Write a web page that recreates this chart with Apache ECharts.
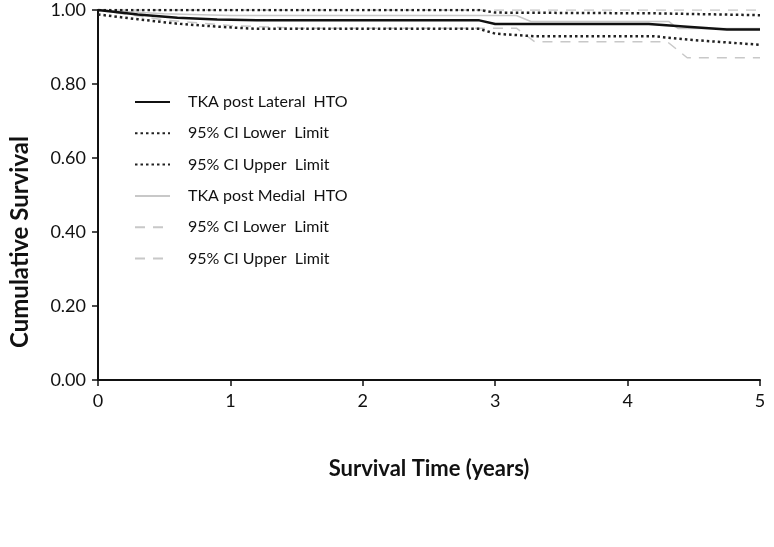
<!DOCTYPE html>
<html>
<head>
<meta charset="utf-8">
<script src="https://cdn.jsdelivr.net/npm/echarts@6/dist/echarts.min.js"></script>
<style>html,body{margin:0;padding:0;background:#fff;}#c{width:774px;height:547px;}</style>
</head>
<body>
<div id="c"></div>
<script>
// Survival time (years) and cumulative survival values
const latX     = [0, 0.3, 0.6, 0.9, 1.2, 2.88, 3.0, 4.16, 4.45, 4.75, 5];
const latY     = [1.0, 0.988, 0.979, 0.974, 0.972, 0.972, 0.962, 0.962, 0.955, 0.947, 0.947];
const latLoX   = [0, 0.3, 0.6, 0.9, 1.2, 2.88, 3.0, 3.3, 4.2, 4.45, 5];
const latLoY   = [0.988, 0.975, 0.963, 0.955, 0.949, 0.949, 0.936, 0.929, 0.929, 0.92, 0.906];
const latHiX   = [0, 2.88, 3.0, 4.2, 5];
const latHiY   = [1.0, 1.0, 0.993, 0.991, 0.986];
const medX     = [0, 0.5, 1.0, 3.16, 3.27, 4.31, 4.38, 5];
const medY     = [1.0, 0.99, 0.985, 0.985, 0.969, 0.969, 0.95, 0.95];
const medLoX   = [0, 0.5, 1.0, 1.5, 3.16, 3.3, 4.3, 4.45, 5];
const medLoY   = [1.0, 0.973, 0.958, 0.951, 0.951, 0.914, 0.914, 0.871, 0.871];
const medHiX   = [0, 5];
const medHiY   = [1.0, 1.0];
const xTicks   = [0, 1, 2, 3, 4, 5];
const yTicks   = [0, 0.2, 0.4, 0.6, 0.8, 1.0];
const legendLabels = {
  lat: 'TKA post Lateral  HTO',
  latLo: '95% CI Lower  Limit',
  latHi: '95% CI Upper  Limit',
  med: 'TKA post Medial  HTO',
  medLo: '95% CI Lower  Limit',
  medHi: '95% CI Upper  Limit'
};

function pairs(xs, ys) { return xs.map((x, i) => [x, ys[i]]); }

const FONT = 'Lato, "Open Sans", sans-serif';
const chart = echarts.init(document.getElementById('c'), null, {renderer: 'canvas'});

function ser(id, xs, ys, color, width, type, z) {
  return {
    name: id, type: 'line', data: pairs(xs, ys), symbol: 'none', z: z,
    lineStyle: {color: color, width: width, type: type},
    itemStyle: {color: color},
    animation: false
  };
}

chart.setOption({
  animation: false,
  grid: {left: 86, right: 14, top: 10, bottom: 167},
  legend: {
    orient: 'vertical', left: 129, top: 89,
    itemWidth: 35, itemHeight: 14, itemGap: 15.3,
    itemStyle: {opacity: 0},
    data: ['lat', 'latLo', 'latHi', 'med', 'medLo', 'medHi'],
    formatter: n => legendLabels[n],
    textStyle: {fontFamily: FONT, fontSize: 16, color: '#111', padding: [0, 0, 0, 13]},
    selectedMode: false
  },
  xAxis: {
    type: 'value', min: 0, max: 5, interval: 1,
    name: 'Survival Time (years)', nameLocation: 'middle', nameGap: 78,
    nameTextStyle: {fontFamily: FONT, fontSize: 22, fontWeight: 'bold', color: '#111'},
    axisLine: {lineStyle: {color: '#111', width: 2}},
    axisTick: {show: true, length: 6, lineStyle: {color: '#111', width: 1.5}},
    axisLabel: {fontFamily: FONT, fontSize: 18, color: '#111', margin: 12, showMaxLabel: true},
    splitLine: {show: false}
  },
  yAxis: {
    type: 'value', min: 0, max: 1, interval: 0.2,
    name: 'Cumulative Survival', nameLocation: 'middle', nameGap: 66,
    nameTextStyle: {fontFamily: FONT, fontSize: 24, fontWeight: 'bold', color: '#111', padding: [0, 94, 0, 0]},
    axisLine: {show: true, lineStyle: {color: '#111', width: 2}},
    axisTick: {show: true, length: 6, lineStyle: {color: '#111', width: 1.5}},
    axisLabel: {fontFamily: FONT, fontSize: 18, color: '#111', margin: 12, formatter: v => v.toFixed(2)},
    splitLine: {show: false}
  },
  series: [
    ser('medHi', medHiX, medHiY, '#c8c8c8', 1.5, [10, 8], 1),
    ser('medLo', medLoX, medLoY, '#c8c8c8', 1.5, [10, 8], 1),
    ser('med', medX, medY, '#c8c8c8', 1.5, 'solid', 2),
    ser('latHi', latHiX, latHiY, '#222', 2.5, [2.5, 3], 3),
    ser('latLo', latLoX, latLoY, '#222', 2.5, [2.5, 3], 3),
    ser('lat', latX, latY, '#111', 2.5, 'solid', 4)
  ]
});
</script>
</body>
</html>
